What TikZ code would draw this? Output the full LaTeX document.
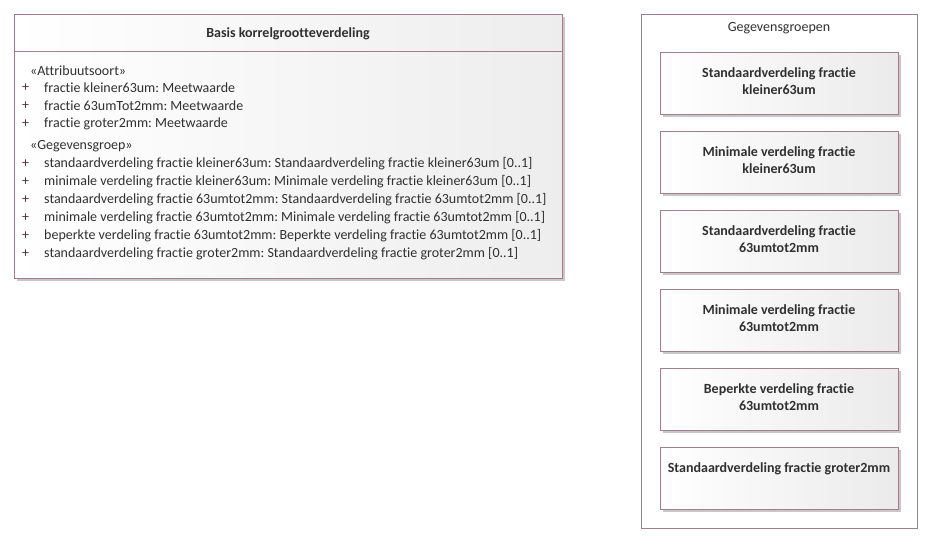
\documentclass[tikz,border=0pt]{standalone}
\usepackage{fontspec}
\setmainfont{Carlito}[Ligatures=NoCommon]
\frenchspacing
\usetikzlibrary{shadows}
\definecolor{randkleur}{HTML}{A08088}
\definecolor{tekstkleur}{HTML}{303030}
\definecolor{pluskleur}{HTML}{6A2434}
\tikzset{
  schaduw/.style={drop shadow={shadow xshift=3pt,shadow yshift=-3pt,fill=black!22,opacity=1}},
  klassebox/.style={draw=randkleur,line width=0.8pt,left color=white,right color=black!7,schaduw},
  groepbox/.style={draw=randkleur,line width=0.8pt,left color=white,right color=black!8,schaduw,
    minimum width=238pt,minimum height=62pt,inner sep=0pt},
  kop/.style={font=\fontsize{14}{17.5}\selectfont\bfseries,text=tekstkleur,align=center},
  regel/.style={anchor=west,font=\fontsize{14}{16}\selectfont,text=tekstkleur,inner sep=0pt},
  plus/.style={anchor=west,font=\fontsize{14}{16}\selectfont,text=pluskleur,inner sep=0pt}
}
\begin{document}
\begin{tikzpicture}[x=1pt,y=-1pt]
\useasboundingbox (0,0) rectangle (935,544);

% klasse
\node[klassebox,minimum width=548pt,minimum height=264pt,inner sep=0pt] (klasse) at (288,146) {};
\draw[randkleur,line width=0.8pt] (klasse.west |- 0,51) -- (klasse.east |- 0,51);
\node[kop] (titel) at (288,34) {Basis korrelgrootteverdeling};

\node[regel] (st1) at (30,71) {«Attribuutsoort»};
\node[plus] (p1) at (22,88) {+};
\node[plus] (p2) at (22,106) {+};
\node[plus] (p3) at (22,124) {+};
\node[regel] (a1) at (44,88) {fractie kleiner63um: Meetwaarde};
\node[regel] (a2) at (44,106) {fractie 63umTot2mm: Meetwaarde};
\node[regel] (a3) at (44,124) {fractie groter2mm: Meetwaarde};

\node[regel] (st2) at (30,146) {«Gegevensgroep»};
\node[plus] (p4) at (22,164) {+};
\node[plus] (p5) at (22,182) {+};
\node[plus] (p6) at (22,200) {+};
\node[plus] (p7) at (22,218) {+};
\node[plus] (p8) at (22,236) {+};
\node[plus] (p9) at (22,254) {+};
\node[regel] (g1) at (44,164) {standaardverdeling fractie kleiner63um: Standaardverdeling fractie kleiner63um [0..1]};
\node[regel] (g2) at (44,182) {minimale verdeling fractie kleiner63um: Minimale verdeling fractie kleiner63um [0..1]};
\node[regel] (g3) at (44,200) {standaardverdeling fractie 63umtot2mm: Standaardverdeling fractie 63umtot2mm [0..1]};
\node[regel] (g4) at (44,218) {minimale verdeling fractie 63umtot2mm: Minimale verdeling fractie 63umtot2mm [0..1]};
\node[regel] (g5) at (44,236) {beperkte verdeling fractie 63umtot2mm: Beperkte verdeling fractie 63umtot2mm [0..1]};
\node[regel] (g6) at (44,254) {standaardverdeling fractie groter2mm: Standaardverdeling fractie groter2mm [0..1]};

% pakket
\node[draw=randkleur,line width=0.8pt,minimum width=276pt,minimum height=514pt,inner sep=0pt] (pakket) at (779,271) {};
\node[regel,anchor=center] (pnaam) at (779,28) {Gegevensgroepen};

\node[groepbox,kop,text depth=4pt] (sfk) at (779,83) {Standaardverdeling fractie\\kleiner63um};
\node[groepbox,kop,text depth=4pt] (mfk) at (779,162) {Minimale verdeling fractie\\kleiner63um};
\node[groepbox,kop,text depth=4pt] (sft) at (779,241) {Standaardverdeling fractie\\63umtot2mm};
\node[groepbox,kop,text depth=4pt] (mft) at (779,320) {Minimale verdeling fractie\\63umtot2mm};
\node[groepbox,kop,text depth=4pt] (bft) at (779,399) {Beperkte verdeling fractie\\63umtot2mm};
\node[groepbox,kop,text depth=20pt] (sfg) at (779,478) {Standaardverdeling fractie groter2mm};
\end{tikzpicture}
\end{document}
